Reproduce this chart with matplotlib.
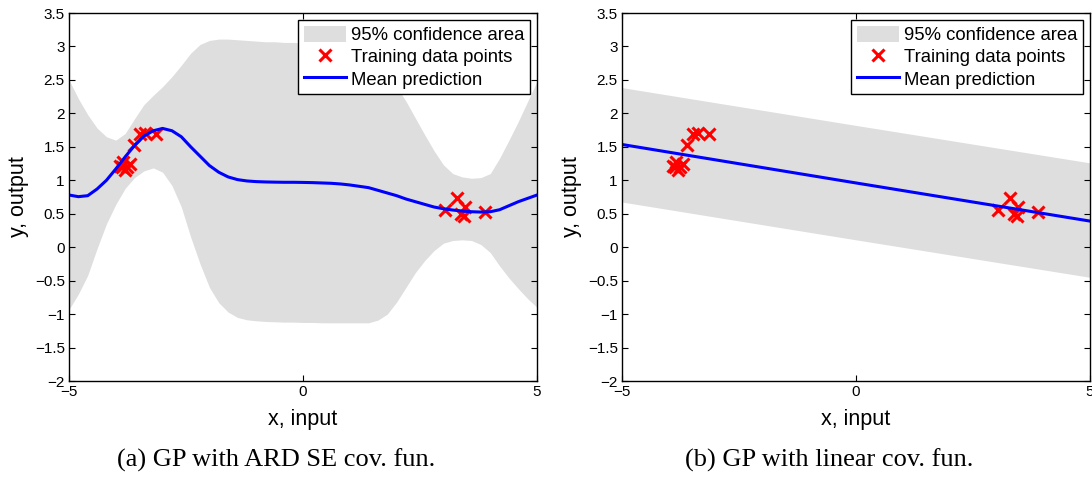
import matplotlib
matplotlib.use("Agg")
import matplotlib.pyplot as plt
from matplotlib.ticker import FuncFormatter

# training data (same in both panels)
x_train = [-3.92, -3.87, -3.84, -3.80, -3.77, -3.70, -3.61, -3.48, -3.38, -3.15,
           3.03, 3.30, 3.37, 3.43, 3.46, 3.89]
y_train = [1.22, 1.20, 1.27, 1.15, 1.20, 1.24, 1.52, 1.69, 1.71, 1.69,
           0.55, 0.74, 0.49, 0.46, 0.60, 0.52]

# (a) ARD SE covariance: values every 0.2
x_se = [-5.0, -4.8, -4.6, -4.4, -4.2, -4.0, -3.8, -3.6, -3.4, -3.2, -3.0,
        -2.8, -2.6, -2.4, -2.2, -2.0, -1.8, -1.6, -1.4, -1.2, -1.0,
        -0.8, -0.6, -0.4, -0.2, 0.0, 0.2, 0.4, 0.6, 0.8, 1.0,
        1.2, 1.4, 1.6, 1.8, 2.0, 2.2, 2.4, 2.6, 2.8, 3.0,
        3.2, 3.4, 3.6, 3.8, 4.0, 4.2, 4.4, 4.6, 4.8, 5.0]
mean_se = [0.78, 0.755, 0.77, 0.87, 1.0, 1.17, 1.35, 1.52, 1.66, 1.74, 1.775,
           1.74, 1.65, 1.5, 1.36, 1.22, 1.12, 1.05, 1.01, 0.99, 0.98,
           0.975, 0.972, 0.97, 0.97, 0.968, 0.965, 0.96, 0.955, 0.945, 0.93,
           0.91, 0.89, 0.85, 0.81, 0.77, 0.72, 0.68, 0.64, 0.6, 0.575,
           0.555, 0.54, 0.53, 0.525, 0.53, 0.56, 0.62, 0.68, 0.73, 0.78]
upper_se = [2.5, 2.22, 1.98, 1.78, 1.65, 1.6, 1.7, 1.92, 2.13, 2.27, 2.4,
            2.55, 2.72, 2.9, 3.03, 3.09, 3.11, 3.11, 3.1, 3.09, 3.08,
            3.07, 3.07, 3.06, 3.06, 3.05, 3.05, 3.04, 3.03, 3.02, 3.0,
            2.96, 2.88, 2.76, 2.6, 2.4, 2.18, 1.93, 1.68, 1.44, 1.23,
            1.1, 1.05, 1.03, 1.04, 1.1, 1.33, 1.6, 1.88, 2.18, 2.48]
lower_se = [-0.93, -0.7, -0.42, -0.02, 0.35, 0.64, 0.88, 1.04, 1.14, 1.185, 1.12,
            0.92, 0.6, 0.15, -0.25, -0.6, -0.83, -0.97, -1.05, -1.085, -1.1,
            -1.11, -1.115, -1.12, -1.12, -1.125, -1.125, -1.13, -1.13, -1.13, -1.13,
            -1.13, -1.13, -1.09, -1.0, -0.82, -0.6, -0.38, -0.2, -0.05, 0.06,
            0.1, 0.11, 0.1, 0.04, -0.08, -0.28, -0.46, -0.62, -0.77, -0.9]

# (b) linear covariance
x_lin = [-5.0, 0.0, 5.0]
mean_lin = [1.535, 0.96, 0.39]
upper_lin = [2.385, 1.82, 1.26]
lower_lin = [0.675, 0.11, -0.45]

captions = ["(a) GP with ARD SE cov. fun.", "(b) GP with linear cov. fun."]
yticks = [-2, -1.5, -1, -0.5, 0, 0.5, 1, 1.5, 2, 2.5, 3, 3.5]
xticks = [-5, 0, 5]

plt.rcParams['font.family'] = ['Liberation Sans', 'DejaVu Sans']

fig = plt.figure(figsize=(10.92, 4.78), dpi=100)
ax_a = fig.add_axes([0.0632, 0.2029, 0.4286, 0.7699])
ax_b = fig.add_axes([0.5696, 0.2029, 0.4286, 0.7699])

panels = [(ax_a, x_se, mean_se, upper_se, lower_se),
          (ax_b, x_lin, mean_lin, upper_lin, lower_lin)]

for (ax, xs, m, up, lo), cap in zip(panels, captions):
    ax.fill_between(xs, lo, up, color='#dedede', lw=0, label='95% confidence area')
    ax.plot(x_train, y_train, 'x', color='red', ms=9, mew=2.2, label='Training data points')
    ax.plot(xs, m, color='blue', lw=2.2, label='Mean prediction')
    ax.set_xlim(-5, 5)
    ax.set_ylim(-2, 3.5)
    ax.set_xticks(xticks)
    ax.set_yticks(yticks)
    ax.yaxis.set_major_formatter(FuncFormatter(lambda v, p: ('%g' % v).replace('-', '\u2212')))
    ax.tick_params(direction='in', top=True, right=True, labelsize=11, length=4, pad=3)
    for s in ax.spines.values():
        s.set_linewidth(1.0)
    ax.set_xlabel('x, input', fontsize=15.5, labelpad=7)
    ax.set_ylabel('y, output', fontsize=15.5, labelpad=4)
    leg = ax.legend(loc='upper right', fontsize=13.3, fancybox=False, framealpha=1,
                    edgecolor='black', handlelength=2.3, handleheight=1.0,
                    borderaxespad=0.38, labelspacing=0.2, borderpad=0.3,
                    handletextpad=0.25)
    leg.get_frame().set_linewidth(1.0)
    pos = ax.get_position()
    # captions sit a little left of the axes centres
    fig.text(pos.x0 + pos.width / 2 - 27 / 1092, 1 - 460 / 478, cap, ha='center',
             va='center', fontsize=19, family='Liberation Serif')

fig.savefig('out.png', dpi=100)
